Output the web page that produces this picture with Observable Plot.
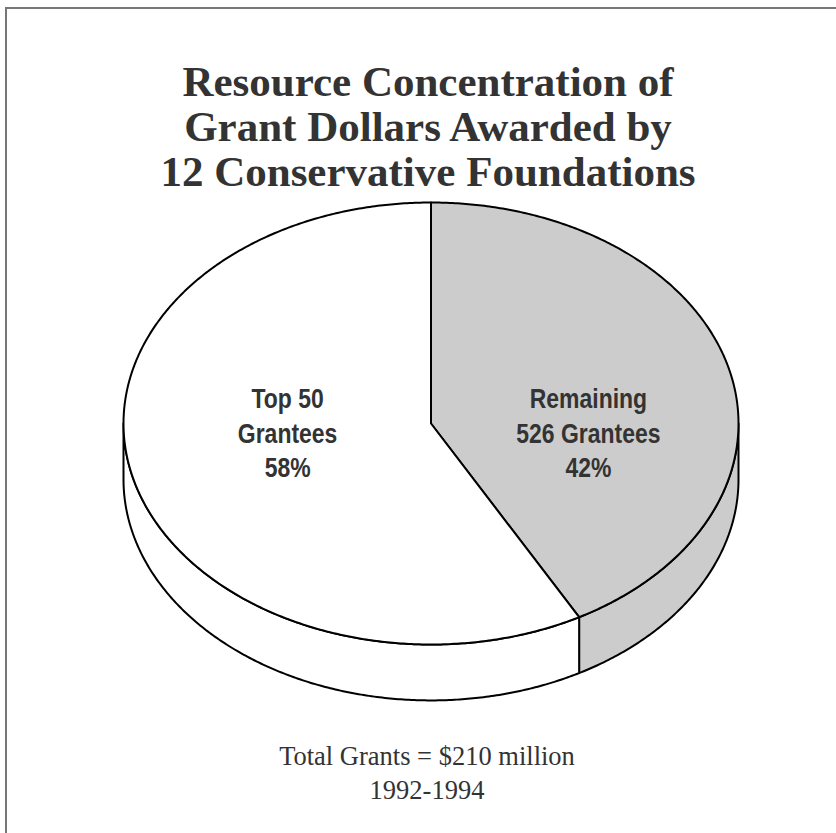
<!DOCTYPE html>
<html>
<head>
<meta charset="utf-8">
<script src="https://cdn.jsdelivr.net/npm/d3@7"></script>
<script src="https://cdn.jsdelivr.net/npm/@observablehq/plot@0.6"></script>
<style>
  html, body { margin: 0; padding: 0; background: #fff; }
  #wrap { position: relative; width: 836px; height: 833px; overflow: hidden; background: #fff; }
  #frame { position: absolute; left: 5px; top: 7px; width: 1000px; height: 1000px;
           border-left: 2px solid #777; border-top: 2px solid #777; box-sizing: border-box; }
  #title { position: absolute; left: 0; width: 856px; top: 59px; text-align: center;
           font-family: "Liberation Serif", "Times New Roman", Times, serif; font-weight: bold;
           font-size: 43px; line-height: 45px; color: #333; }
  #caption { position: absolute; left: 0; width: 854px; top: 739px; text-align: center;
           font-family: "Liberation Serif", "Times New Roman", Times, serif;
           font-size: 26.5px; line-height: 34px; color: #333; }
  #chart { position: absolute; left: 0; top: 0; }
</style>
</head>
<body>
<div id="wrap">
  <div id="frame"></div>
  <div id="chart"></div>
  <div id="title"></div>
  <div id="caption"></div>
</div>
<script>
// ---- data ----
const titleLines = ["Resource Concentration of", "Grant Dollars Awarded by", "12 Conservative Foundations"];
const captionLines = ["Total Grants = $210 million", "1992-1994"];
const categories = ["Remaining 526 Grantees", "Top 50 Grantees"];
const percents = [42, 58];
const sliceLabels = ["Remaining\n526 Grantees\n42%", "Top 50\nGrantees\n58%"];
const sliceFills = ["#cccccc", "#ffffff"];

document.getElementById("title").innerHTML = titleLines.join("<br>");
document.getElementById("caption").innerHTML = captionLines.join("<br>");

// ---- geometry (unit ellipse, clockwise from top) ----
const total = d3.sum(percents);
let acc = 0;
const slices = percents.map((p, i) => {
  const a0 = acc / total * 2 * Math.PI; acc += p;
  const a1 = acc / total * 2 * Math.PI;
  return {i, name: categories[i], a0, a1, mid: (a0 + a1) / 2, label: sliceLabels[i], fill: sliceFills[i]};
});
const DEPTH = 0.253;
function arc(a0, a1, off) {
  const n = Math.max(2, Math.ceil((a1 - a0) / (Math.PI / 360)));
  return d3.range(n + 1).map(k => {
    const a = a0 + (a1 - a0) * k / n;
    return {x: Math.sin(a), y: -Math.cos(a) + off};
  });
}
const marks = [];
// side walls (visible front half: pi/2 .. 3pi/2)
for (const s of slices) {
  const lo = Math.max(s.a0, Math.PI / 2), hi = Math.min(s.a1, 3 * Math.PI / 2);
  if (hi <= lo) continue;
  const top = arc(lo, hi, 0), bot = arc(lo, hi, DEPTH).reverse();
  const poly = [...top, ...bot, top[0]];
  marks.push(Plot.line(poly, {x: "x", y: "y", fill: s.fill, stroke: "#000", strokeWidth: 2, strokeLinejoin: "round", curve: "linear"}));
}
// top faces
for (const s of slices) {
  const poly = [{x: 0, y: 0}, ...arc(s.a0, s.a1, 0), {x: 0, y: 0}];
  marks.push(Plot.line(poly, {x: "x", y: "y", fill: s.fill, stroke: "#000", strokeWidth: 2, strokeLinejoin: "round", curve: "linear"}));
}
// labels
marks.push(Plot.text(slices, {
  x: d => 0.505 * Math.sin(d.mid),
  y: d => 0.037,
  dx: 7,
  text: "label",
  fontFamily: "'Liberation Sans', Arial, sans-serif",
  fontWeight: "bold",
  fontSize: 28,
  lineHeight: 34.5 / 28,
  fill: "#333",
  textAnchor: "middle",
  lineAnchor: "middle",
  className: "slice-labels"
}));

const chart = Plot.plot({
  width: 836,
  height: 833,
  margin: 0,
  style: {background: "transparent", overflow: "visible"},
  x: {domain: [-1, 1], range: [123, 738], axis: null},
  y: {domain: [-1, 1], range: [202, 644], axis: null},
  marks
});
// condense the label type horizontally (the reference uses a condensed bold sans)
chart.querySelectorAll("g.slice-labels text").forEach(t => {
  const tr = t.getAttribute("transform") || "";
  t.setAttribute("transform", tr + " scale(0.82,1)");
});
document.getElementById("chart").appendChild(chart);
</script>
</body>
</html>
